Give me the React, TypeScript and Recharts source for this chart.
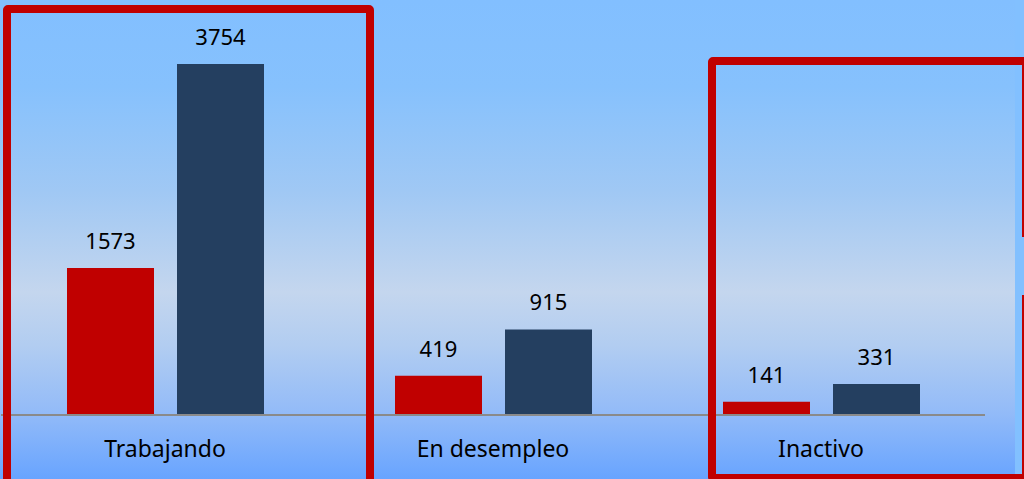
import { BarChart, Bar, XAxis, YAxis, LabelList } from "recharts";

const categories = ["Trabajando", "En desempleo", "Inactivo"];
const redValues = [1573, 419, 141];
const blueValues = [3754, 915, 331];

const data = categories.map((name, i) => ({
  name,
  rojo: redValues[i],
  azul: blueValues[i],
}));

const FONT = "'Noto Sans', sans-serif";

function CategoryTick(props: any) {
  const { x, y, payload } = props;
  return (
    <text x={x} y={y} dy={34} textAnchor="middle" fontFamily={FONT} fontSize={23} fill="#000">
      {payload.value}
    </text>
  );
}

export default function App() {
  return (
    <div
      style={{
        position: "absolute",
        left: 0,
        top: 0,
        width: 1024,
        height: 479,
        overflow: "hidden",
        background: "#82c0ff",
      }}
    >
      <div
        style={{
          position: "absolute",
          left: 0,
          top: 0,
          width: 1015,
          height: 479,
          background:
            "linear-gradient(to bottom, #82bfff 0%, #86c1fd 18%, #a0c8f4 40%, #c4d6ee 61%, #b2cdf1 72%, #93bbf8 86%, #68a4ff 100%)",
        }}
      >
        <BarChart
          width={1015}
          height={479}
          data={data}
          margin={{ top: 41, right: 30, left: 1, bottom: 0 }}
          barSize={87}
          barGap={23}
        >
          <YAxis hide domain={[0, 4000]} />
          <XAxis
            dataKey="name"
            height={64}
            axisLine={{ stroke: "#8a8a8a", strokeWidth: 2 }}
            tickLine={false}
            tick={<CategoryTick />}
            interval={0}
          />
          <Bar dataKey="rojo" fill="#c00000" isAnimationActive={false}>
            <LabelList
              dataKey="rojo"
              position="top"
              offset={19}
              fontFamily={FONT}
              fontSize={22}
              fill="#000"
            />
          </Bar>
          <Bar dataKey="azul" fill="#243f60" isAnimationActive={false}>
            <LabelList
              dataKey="azul"
              position="top"
              offset={19}
              fontFamily={FONT}
              fontSize={22}
              fill="#000"
            />
          </Bar>
        </BarChart>
      </div>
      {/* red highlight frames */}
      <div
        style={{
          position: "absolute",
          left: 3,
          top: 5,
          width: 371,
          height: 500,
          boxSizing: "border-box",
          border: "8px solid #c00000",
          borderRadius: 5,
          pointerEvents: "none",
        }}
      />
      <div
        style={{
          position: "absolute",
          left: 708,
          top: 57,
          width: 322,
          height: 425,
          boxSizing: "border-box",
          border: "8px solid #c00000",
          borderRadius: 5,
          pointerEvents: "none",
        }}
      />
      <div
        style={{
          position: "absolute",
          left: 1015,
          top: 237,
          width: 9,
          height: 58,
          background: "#82c0ff",
        }}
      />
    </div>
  );
}
